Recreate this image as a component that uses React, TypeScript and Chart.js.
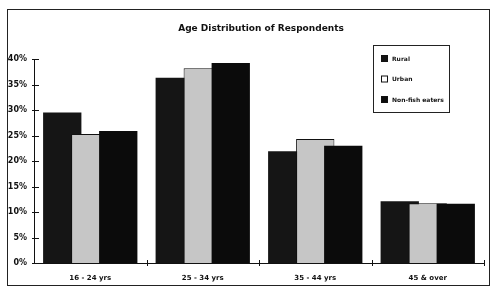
import React, { useEffect, useRef } from "react";
import { Chart, registerables } from "chart.js";

Chart.register(...registerables);

const categories = ["16 - 24 yrs", "25 - 34 yrs", "35 - 44 yrs", "45 & over"];
const seriesNames = ["Rural", "Urban", "Non-fish eaters"];
const rural = [29.5, 36.3, 21.9, 12.1];
const urban = [25.3, 38.2, 24.3, 11.7];
const nonFish = [25.9, 39.2, 23.0, 11.6];
const yMin = 0;
const yMax = 40;
const yStep = 5;
const titleText = "Age Distribution of Respondents";

const FONT = '"DejaVu Sans", "Liberation Sans", sans-serif';

const forwardDrawPlugin = {
  id: "forwardDraw",
  beforeDatasetsDraw(chart: any) {
    const metas = chart.getSortedVisibleDatasetMetas();
    for (let i = 0; i < metas.length; i++) {
      chart._drawDataset(metas[i]);
    }
    return false;
  },
};

const decorPlugin = {
  id: "decor",
  afterDraw(chart: any) {
    const ctx = chart.ctx;
    const area = chart.chartArea;
    ctx.save();
    // outer frame
    ctx.strokeStyle = "#222";
    ctx.lineWidth = 1;
    ctx.strokeRect(7.5, 9.5, 482, 276);

    // title
    ctx.fillStyle = "#111";
    ctx.font = `bold 9px ${FONT}`;
    ctx.textAlign = "center";
    ctx.textBaseline = "middle";
    ctx.fillText(titleText, 261, 28.5);

    // y ticks crossing axis
    const ys = chart.scales.y;
    ctx.strokeStyle = "#111";
    ctx.beginPath();
    for (let v = yMin; v <= yMax; v += yStep) {
      const py = Math.round(ys.getPixelForValue(v)) + 0.5;
      ctx.moveTo(area.left - 2, py);
      ctx.lineTo(area.left + 5, py);
    }
    // x ticks at category boundaries
    const xs = chart.scales.x;
    const n = categories.length;
    const w = (area.right - area.left) / n;
    for (let i = 1; i <= n; i++) {
      const c = xs.getPixelForTick(i - 1);
      const px = Math.round(c + w / 2) + 0.5;
      ctx.moveTo(px, area.bottom - 3);
      ctx.lineTo(px, area.bottom + 3);
    }
    ctx.stroke();

    // legend
    const lx = 373.5, ly = 45.5, lw = 76, lh = 67;
    ctx.fillStyle = "#fff";
    ctx.fillRect(lx, ly, lw, lh);
    ctx.strokeStyle = "#222";
    ctx.strokeRect(lx, ly, lw, lh);
    const rows = [58.5, 79, 99.5];
    const fills = ["#141414", "#ffffff", "#0c0c0c"];
    ctx.font = `bold 6px ${FONT}`;
    ctx.textAlign = "left";
    ctx.textBaseline = "middle";
    for (let i = 0; i < seriesNames.length; i++) {
      const ry = rows[i];
      ctx.fillStyle = fills[i];
      ctx.fillRect(381, ry - 3.5, 7, 7);
      ctx.strokeStyle = "#111";
      ctx.strokeRect(381.5, ry - 3, 6, 6);
      ctx.fillStyle = "#111";
      ctx.fillText(seriesNames[i], 392, ry + 0.5);
    }
    ctx.restore();
  },
};

export default function App() {
  const ref = useRef<HTMLCanvasElement | null>(null);
  useEffect(() => {
    if (!ref.current) return;
    const chart = new Chart(ref.current, {
      type: "bar",
      data: {
        labels: categories,
        datasets: [
          { label: seriesNames[0], data: rural, backgroundColor: "#151515", borderWidth: 0 },
          { label: seriesNames[1], data: urban, backgroundColor: "#c6c6c6", borderColor: "#111", borderWidth: 1 },
          { label: seriesNames[2], data: nonFish, backgroundColor: "#0b0b0b", borderWidth: 0 },
        ],
      },
      options: {
        animation: false,
        responsive: false,
        devicePixelRatio: 1,
        categoryPercentage: 0.7467,
        barPercentage: 1.368,
        layout: { padding: { top: 59, right: 16, bottom: 0, left: 0 } },
        plugins: {
          legend: { display: false },
          title: { display: false },
          tooltip: { enabled: false },
        },
        scales: {
          x: {
            offset: true,
            grid: { display: false, drawTicks: false },
            border: { display: true, color: "#111", width: 1 },
            ticks: {
              color: "#111",
              font: { family: FONT, size: 7, weight: "bold" },
              padding: 11,
              maxRotation: 0,
            },
            afterFit: (s: any) => { s.height = 35; },
          },
          y: {
            min: yMin,
            max: yMax,
            grid: { display: false, drawTicks: false },
            border: { display: true, color: "#111", width: 1 },
            ticks: {
              stepSize: yStep,
              color: "#111",
              font: { family: FONT, size: 8, weight: "bold" },
              padding: 7,
              callback: (v: any) => `${v}%`,
            },
            afterFit: (s: any) => { s.width = 34; },
          },
        },
      },
      plugins: [forwardDrawPlugin, decorPlugin],
    });
    return () => chart.destroy();
  }, []);
  return (
    <div style={{ position: "absolute", left: 0, top: 0, width: 500, height: 298, background: "#fff" }}>
      <canvas ref={ref} width={500} height={298} style={{ display: "block" }} />
    </div>
  );
}
